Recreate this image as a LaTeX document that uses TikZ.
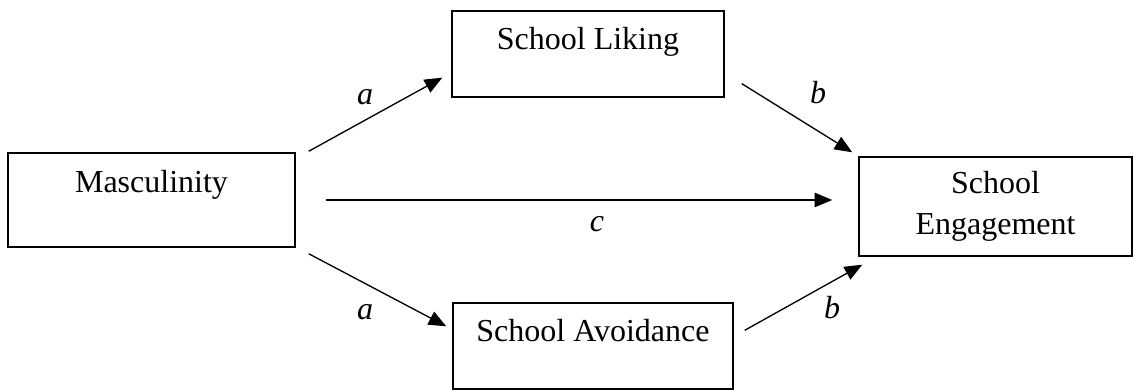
\documentclass[tikz,border=0pt]{standalone}
\usepackage{fontspec}
\setmainfont{Liberation Serif}
\usetikzlibrary{arrows.meta,calc}

\begin{document}
\begin{tikzpicture}[x=0.375pt, y=-0.375pt, >={Triangle[length=6.6pt,width=5.4pt]},
    every node/.style={font=\fontsize{12pt}{15.4pt}\selectfont},
    box/.style={draw, line width=0.55pt, inner sep=0pt, align=center},
    lbl/.style={font=\fontsize{12pt}{14pt}\selectfont\itshape}]
        \useasboundingbox (0,0) rectangle (1133,390);

        \node[box, minimum width=107.6pt, text height=15pt, text depth=20.25pt] (masc) at (151.5,200) {Masculinity};
        \node[box, minimum width=102pt, text height=14.6pt, text depth=17.6pt] (liking) at (588,54) {School Liking};
        \node[box, minimum width=105pt, text height=14.6pt, text depth=17.6pt] (avoid) at (593,346) {School Avoidance};
        \node[box, minimum width=102.4pt, minimum height=37.1pt] (engage) at (995.5,206.5) {School\\Engagement};

        \draw[->, line width=0.5pt] ($(masc.north east)+(13,-1)$) -- ($(liking.south west)+(-9,-20)$);
        \draw[->, line width=0.5pt] ($(liking.south east)+(17,-14)$) -- ($(engage.north west)+(-6,-4)$);
        \draw[->, line width=0.55pt] ($(masc.east)+(30,0)$) -- ($(engage.west)+(-26,-6.5)$);
        \draw[->, line width=0.5pt] ($(masc.south east)+(13,6)$) -- ($(avoid.north west)+(-6,24)$);
        \draw[->, line width=0.5pt] ($(avoid.north east)+(11,28)$) -- ($(engage.south west)+(4,8)$);

        \node[lbl] (la1) at (365,97) {a};
        \node[lbl] (lb1) at (818,93) {b};
        \node[lbl] (lc) at (597,224) {c};
        \node[lbl] (la2) at (365,312) {a};
        \node[lbl] (lb2) at (832,308) {b};
    \end{tikzpicture}
\end{document}
